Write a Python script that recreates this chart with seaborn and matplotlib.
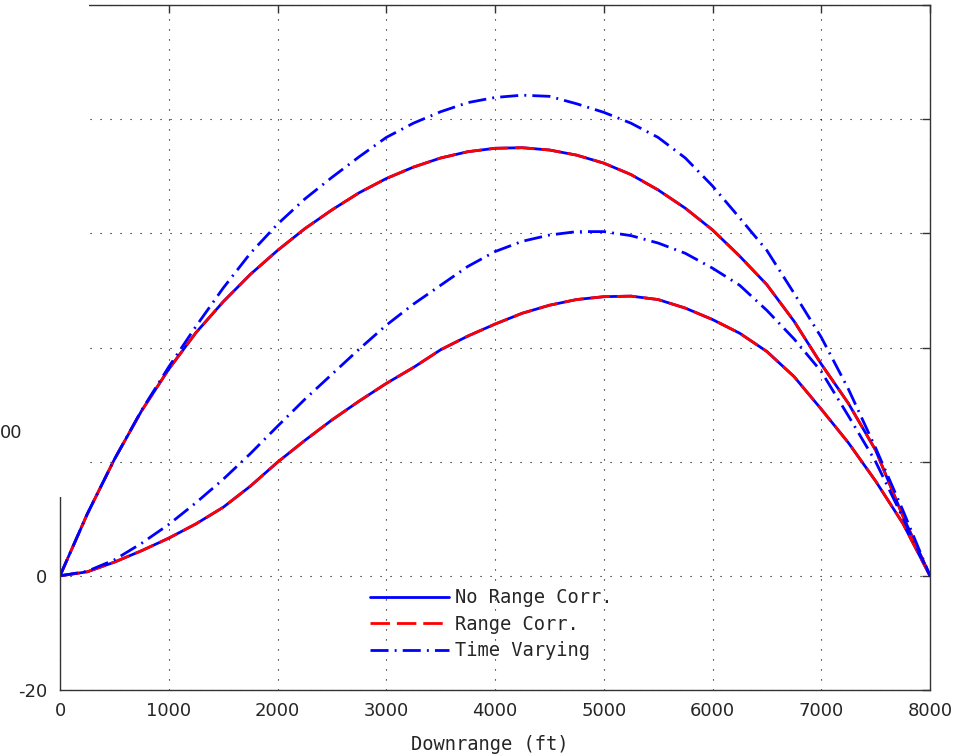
import numpy as np
import pandas as pd
import seaborn as sns
import matplotlib.pyplot as plt
from matplotlib.patches import Rectangle
from matplotlib.lines import Line2D

# downrange grid (ft)
downrange = [0, 250, 500, 750, 1000, 1250, 1500, 1750, 2000, 2250, 2500, 2750,
             3000, 3250, 3500, 3750, 4000, 4250, 4500, 4750, 5000, 5250, 5500,
             5750, 6000, 6250, 6500, 6750, 7000, 7250, 7500, 7750, 8000]

# upper trajectory
upper_no_corr = [0, 10.8, 20.4, 28.9, 36.2, 42.6, 48.0, 52.8, 57.0, 60.8, 64.1, 67.1,
                 69.6, 71.6, 73.2, 74.3, 74.9, 75.0, 74.6, 73.7, 72.3, 70.3, 67.6,
                 64.4, 60.6, 56.0, 51.0, 44.6, 37.1, 30.2, 22.0, 10.5, 0]
upper_range_corr = list(upper_no_corr)
upper_time_vary = [0, 10.8, 20.4, 29.0, 36.6, 43.7, 50.4, 56.5, 61.6, 66.0, 69.8, 73.4,
                   76.8, 79.3, 81.3, 82.9, 83.8, 84.2, 84.0, 82.7, 81.2, 79.3, 76.8,
                   73.2, 68.3, 62.7, 57.0, 49.5, 41.8, 32.7, 22.4, 11.5, 0]

# lower trajectory
lower_no_corr = [0, 0.7, 2.4, 4.4, 6.6, 9.1, 12.0, 15.7, 19.9, 23.7, 27.3, 30.6,
                 33.7, 36.5, 39.6, 42.0, 44.1, 46.0, 47.4, 48.4, 48.9, 49.0, 48.4,
                 46.9, 44.9, 42.5, 39.3, 34.9, 29.2, 23.3, 16.6, 9.2, 0]
lower_range_corr = list(lower_no_corr)
lower_time_vary = [0, 0.8, 2.8, 5.7, 9.0, 12.8, 16.9, 21.4, 26.2, 30.9, 35.3, 39.7,
                   43.9, 47.6, 50.9, 54.2, 56.8, 58.6, 59.7, 60.3, 60.3, 59.6, 58.3,
                   56.5, 53.9, 50.9, 46.5, 41.5, 35.8, 28.0, 20.0, 10.2, 0]

legend_labels = ['No Range Corr.', 'Range Corr.', 'Time Varying']
y_ticks = [-20, 0, 20, 40, 60, 80, 100]
y_ticklabels = ['-20', '0', '', '', '', '', '']

sns.set_style('white')
plt.rcParams['font.family'] = ['DejaVu Sans']

W, H = 964, 755
fig = plt.figure(figsize=(W / 100, H / 100), dpi=100)
ax = fig.add_axes([60 / W, 65 / H, 870 / W, 685 / H])

lw = 2.0
dash = (7, 2.5)
dashdot = (6.5, 2.2, 0.7, 2.2)

for ys in [upper_no_corr, lower_no_corr]:
    sns.lineplot(x=downrange, y=ys, ax=ax, color='b', lw=lw, sort=False)
for ys in [upper_range_corr, lower_range_corr]:
    sns.lineplot(x=downrange, y=ys, ax=ax, color='r', lw=lw, sort=False)
    ax.lines[-1].set_dashes(dash)
for ys in [upper_time_vary, lower_time_vary]:
    sns.lineplot(x=downrange, y=ys, ax=ax, color='b', lw=lw, sort=False)
    ax.lines[-1].set_dashes(dashdot)

ax.set_xlim(0, 8000)
ax.set_ylim(-20, 100)
ax.set_xticks(range(0, 8001, 1000))
ax.set_yticks(y_ticks)
ax.set_yticklabels(y_ticklabels)
ax.grid(True, color='black', lw=0.8, linestyle=(0, (1, 8)))
for s in ax.spines.values():
    s.set_color('#333333')
    s.set_linewidth(1.0)
ax.tick_params(direction='in', length=6, width=1.0, color='#333333',
               top=True, right=True, labelsize=13, pad=9)

ax.set_xlabel('Downrange (ft)', fontsize=13.5, family='DejaVu Sans Mono')
ax.xaxis.set_label_coords(0.494, -0.066)

handles = [Line2D([], [], color='b', lw=lw),
           Line2D([], [], color='r', lw=lw, dashes=dash),
           Line2D([], [], color='b', lw=lw, dashes=dashdot)]
fig.legend(handles, legend_labels, loc='upper left',
           bbox_to_anchor=(361 / W, 1 - 579 / H), bbox_transform=fig.transFigure,
           frameon=False, borderpad=0, handlelength=4.2, handletextpad=0.3,
           labelspacing=0.4, prop={'family': 'DejaVu Sans Mono', 'size': 13.5})

# blank patch over the top-left corner, as in the source image
fig.add_artist(Rectangle((0, 1 - 497 / H), 89 / W, 497 / H, transform=fig.transFigure,
                         facecolor='white', edgecolor='none', zorder=10))
fig.text(0, 1 - 433 / H, '00', fontsize=13, va='center', ha='left', zorder=11)

plt.savefig('out.png', dpi=100)
